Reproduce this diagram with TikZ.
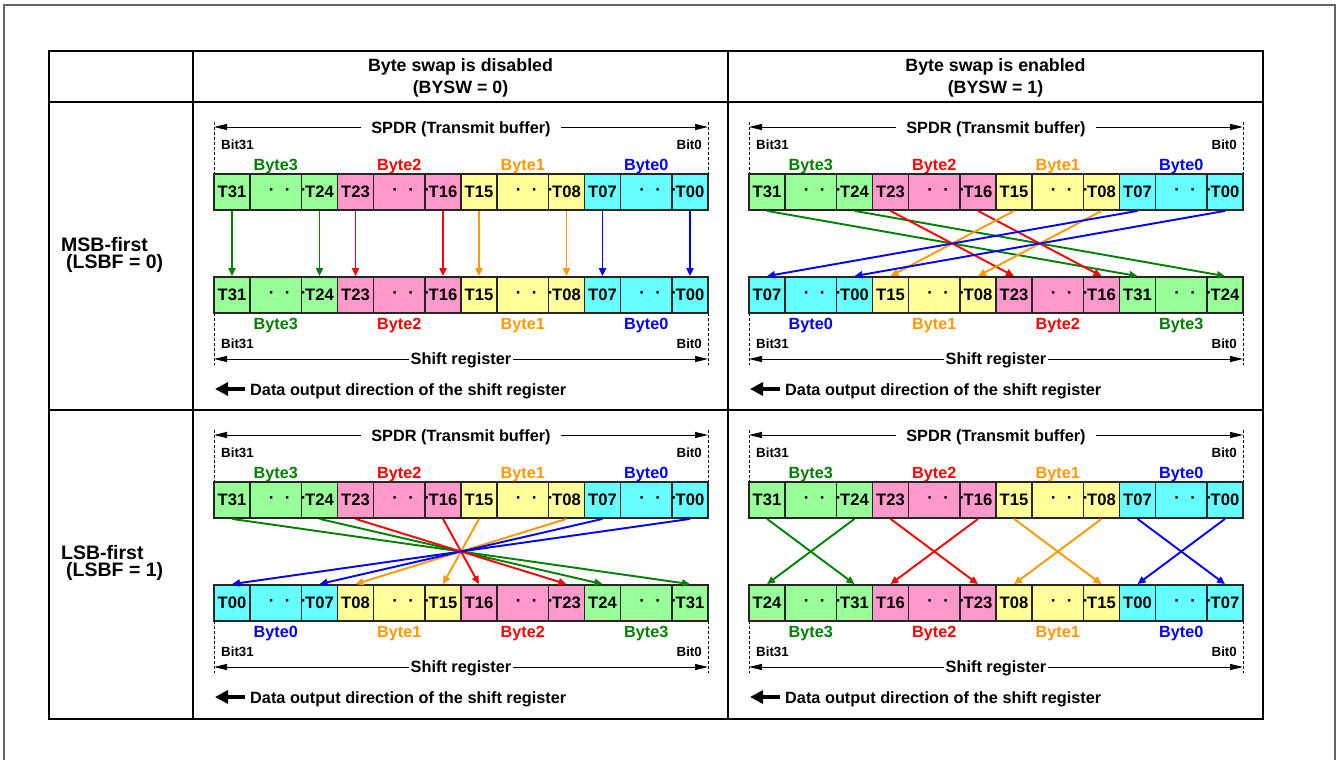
\documentclass[tikz,border=0pt]{standalone}
\usepackage{fontspec}
\setmainfont{Liberation Sans}
\usetikzlibrary{arrows.meta}
\definecolor{cG}{RGB}{0,128,0}
\definecolor{cR}{RGB}{255,0,0}
\definecolor{cO}{RGB}{255,153,0}
\definecolor{cB}{RGB}{0,0,255}
\definecolor{fG}{RGB}{153,255,153}
\definecolor{fR}{RGB}{255,153,204}
\definecolor{fO}{RGB}{255,255,153}
\definecolor{fB}{RGB}{102,255,255}
\definecolor{frameg}{RGB}{100,100,100}
\tikzset{
  cellN/.style={draw=black!85, line width=1.8pt, minimum width=36pt, minimum height=36pt,
    inner sep=0pt, font=\bfseries\fontsize{16.6}{17}\selectfont},
  cellW/.style={cellN, minimum width=51.5pt},
  dotrow/.style={inner sep=0pt, font=\bfseries\fontsize{17}{17}\selectfont},
  conn/.style={line width=1.9pt, -{Triangle[length=8pt,width=7pt]}},
  ruler/.style={line width=1pt, {Triangle[length=13pt,width=6pt]}-{Triangle[length=13pt,width=6pt]}},
  dashline/.style={line width=0.9pt, dash pattern=on 3pt off 2pt},
  bitlbl/.style={inner sep=0pt, font=\bfseries\fontsize{13.3}{14}\selectfont},
  bytelbl/.style={inner sep=0pt, font=\bfseries\fontsize{16.2}{17}\selectfont},
  ttl/.style={inner sep=0pt, font=\bfseries\fontsize{16.3}{17}\selectfont},
  head/.style={inner sep=0pt, font=\bfseries\fontsize{17.8}{19}\selectfont},
  rowlbl/.style={inner sep=0pt, font=\bfseries\fontsize{19.5}{20}\selectfont},
  bigarrow/.style={line width=4pt, -{Triangle[length=13pt,width=13pt]}},
  tbl/.style={line width=2.2pt, black},
}
% #1 name, #2 x, #3 ytop, #4 fill, #5 first, #6 last, #7 text colour, #8 byte name, #9 label baseline
\newcommand\byteblock[9]{%
  \node[cellN,fill=#4] (#1a) at ({#2+18},{#3+18}) {#5};
  \node[cellW,fill=#4] (#1m) at ({#2+61.75},{#3+18}) {};
  \node[cellN,fill=#4] (#1b) at ({#2+105.5},{#3+18}) {#6};
  \node[dotrow] (#1d) at ({#2+73.75},{#3+18}) {·\kern10.3pt·\kern10.3pt·};
  \node[bytelbl,text=#7,anchor=base] (#1n) at ({#2+61.75},#9) {#8};
}
% #1 prefix, #2 x0, #3 row offset
\newcommand\panelframe[3]{%
  \coordinate (#1-rt1) at (#2,{122+#3});
  \coordinate (#1-rt2) at (#2,{174+#3});
  \coordinate (#1-rt3) at ({#2+494},{122+#3});
  \coordinate (#1-rt4) at ({#2+494},{174+#3});
  \draw[dashline] (#1-rt1) -- (#1-rt2);
  \draw[dashline] (#1-rt3) -- (#1-rt4);
  \coordinate (#1-sa) at (#2,{127+#3});
  \coordinate (#1-sb) at ({#2+494},{127+#3});
  \draw[ruler] (#1-sa) -- (#1-sb);
  \node[ttl,fill=white,inner xsep=10pt,inner ysep=3pt,anchor=base] (#1-spdr) at ({#2+247},{133.3+#3}) {SPDR (Transmit buffer)};
  \node[bitlbl,anchor=base west] (#1-b31u) at ({#2+7},{149+#3}) {Bit31};
  \node[bitlbl,anchor=base east] (#1-b0u) at ({#2+488},{149+#3}) {Bit0};
  \byteblock{#1-u0}{#2}{174+#3}{fG}{T31}{T24}{cG}{Byte3}{170+#3}
  \byteblock{#1-u1}{#2+123.5}{174+#3}{fR}{T23}{T16}{cR}{Byte2}{170+#3}
  \byteblock{#1-u2}{#2+247}{174+#3}{fO}{T15}{T08}{cO}{Byte1}{170+#3}
  \byteblock{#1-u3}{#2+370.5}{174+#3}{fB}{T07}{T00}{cB}{Byte0}{170+#3}
  \coordinate (#1-rb1) at (#2,{313+#3});
  \coordinate (#1-rb2) at (#2,{365+#3});
  \coordinate (#1-rb3) at ({#2+494},{313+#3});
  \coordinate (#1-rb4) at ({#2+494},{365+#3});
  \draw[dashline] (#1-rb1) -- (#1-rb2);
  \draw[dashline] (#1-rb3) -- (#1-rb4);
  \node[bitlbl,anchor=base west] (#1-b31l) at ({#2+7},{348+#3}) {Bit31};
  \node[bitlbl,anchor=base east] (#1-b0l) at ({#2+488},{348+#3}) {Bit0};
  \coordinate (#1-ra) at (#2,{359+#3});
  \coordinate (#1-rb) at ({#2+494},{359+#3});
  \draw[ruler] (#1-ra) -- (#1-rb);
  \node[ttl,fill=white,inner xsep=2pt,inner ysep=3pt,anchor=base] (#1-shift) at ({#2+247},{364.3+#3}) {Shift register};
  \coordinate (#1-da) at ({#2+31},{389+#3});
  \coordinate (#1-db) at ({#2+1},{389+#3});
  \draw[bigarrow] (#1-da) -- (#1-db);
  \node[ttl,anchor=base west] (#1-dtxt) at ({#2+36},{395+#3}) {Data output direction of the shift register};
}
\begin{document}
\begin{tikzpicture}[x=1pt,y=-1pt]
\useasboundingbox (0,0) rectangle (1339,760);
% outer frame
\draw[frameg,line width=1.5pt] (4,762) -- (4,5) -- (1335,5) -- (1335,762);
% table
\draw[tbl] (49,51) rectangle (1263,719);
\draw[tbl] (193,51) -- (193,719);
\draw[tbl] (728,51) -- (728,719);
\draw[tbl] (49,102) -- (1263,102);
\draw[tbl] (49,410) -- (1263,410);
% headers
\node[head,anchor=base] (h1a) at (460.5,72) {Byte swap is disabled};
\node[head,anchor=base] (h1b) at (460.5,93) {(BYSW = 0)};
\node[head,anchor=base] (h2a) at (995.5,72) {Byte swap is enabled};
\node[head,anchor=base] (h2b) at (995.5,93) {(BYSW = 1)};
\node[rowlbl,anchor=base west] (r1a) at (61,251) {MSB-first};
\node[rowlbl,anchor=base west] (r1b) at (66,268.5) {(LSBF = 0)};
\node[rowlbl,anchor=base west] (r2a) at (61,559) {LSB-first};
\node[rowlbl,anchor=base west] (r2b) at (66,576.5) {(LSBF = 1)};

% ---------- Panel A: MSB-first, no swap
\panelframe{A}{214}{0}
\byteblock{A-l0}{214}{277}{fG}{T31}{T24}{cG}{Byte3}{329}
\byteblock{A-l1}{337.5}{277}{fR}{T23}{T16}{cR}{Byte2}{329}
\byteblock{A-l2}{461}{277}{fO}{T15}{T08}{cO}{Byte1}{329}
\byteblock{A-l3}{584.5}{277}{fB}{T07}{T00}{cB}{Byte0}{329}
\draw[conn,cG] (A-u0a.south) -- (A-l0a.north);
\draw[conn,cG] (A-u0b.south) -- (A-l0b.north);
\draw[conn,cR] (A-u1a.south) -- (A-l1a.north);
\draw[conn,cR] (A-u1b.south) -- (A-l1b.north);
\draw[conn,cO] (A-u2a.south) -- (A-l2a.north);
\draw[conn,cO] (A-u2b.south) -- (A-l2b.north);
\draw[conn,cB] (A-u3a.south) -- (A-l3a.north);
\draw[conn,cB] (A-u3b.south) -- (A-l3b.north);

% ---------- Panel B: MSB-first, swap
\panelframe{B}{749}{0}
\byteblock{B-l0}{749}{277}{fB}{T07}{T00}{cB}{Byte0}{329}
\byteblock{B-l1}{872.5}{277}{fO}{T15}{T08}{cO}{Byte1}{329}
\byteblock{B-l2}{996}{277}{fR}{T23}{T16}{cR}{Byte2}{329}
\byteblock{B-l3}{1119.5}{277}{fG}{T31}{T24}{cG}{Byte3}{329}
\draw[conn,cG] (B-u0a.south) -- (B-l3a.north);
\draw[conn,cG] (B-u0b.south) -- (B-l3b.north);
\draw[conn,cR] (B-u1a.south) -- (B-l2a.north);
\draw[conn,cR] (B-u1b.south) -- (B-l2b.north);
\draw[conn,cO] (B-u2a.south) -- (B-l1a.north);
\draw[conn,cO] (B-u2b.south) -- (B-l1b.north);
\draw[conn,cB] (B-u3a.south) -- (B-l0a.north);
\draw[conn,cB] (B-u3b.south) -- (B-l0b.north);

% ---------- Panel C: LSB-first, no swap
\panelframe{C}{214}{308}
\byteblock{C-l0}{214}{585}{fB}{T00}{T07}{cB}{Byte0}{637}
\byteblock{C-l1}{337.5}{585}{fO}{T08}{T15}{cO}{Byte1}{637}
\byteblock{C-l2}{461}{585}{fR}{T16}{T23}{cR}{Byte2}{637}
\byteblock{C-l3}{584.5}{585}{fG}{T24}{T31}{cG}{Byte3}{637}
\draw[conn,cG] (C-u0a.south) -- (C-l3b.north);
\draw[conn,cG] (C-u0b.south) -- (C-l3a.north);
\draw[conn,cR] (C-u1a.south) -- (C-l2b.north);
\draw[conn,cR] (C-u1b.south) -- (C-l2a.north);
\draw[conn,cO] (C-u2a.south) -- (C-l1b.north);
\draw[conn,cO] (C-u2b.south) -- (C-l1a.north);
\draw[conn,cB] (C-u3a.south) -- (C-l0b.north);
\draw[conn,cB] (C-u3b.south) -- (C-l0a.north);

% ---------- Panel D: LSB-first, swap
\panelframe{D}{749}{308}
\byteblock{D-l0}{749}{585}{fG}{T24}{T31}{cG}{Byte3}{637}
\byteblock{D-l1}{872.5}{585}{fR}{T16}{T23}{cR}{Byte2}{637}
\byteblock{D-l2}{996}{585}{fO}{T08}{T15}{cO}{Byte1}{637}
\byteblock{D-l3}{1119.5}{585}{fB}{T00}{T07}{cB}{Byte0}{637}
\draw[conn,cG] (D-u0a.south) -- (D-l0b.north);
\draw[conn,cG] (D-u0b.south) -- (D-l0a.north);
\draw[conn,cR] (D-u1a.south) -- (D-l1b.north);
\draw[conn,cR] (D-u1b.south) -- (D-l1a.north);
\draw[conn,cO] (D-u2a.south) -- (D-l2b.north);
\draw[conn,cO] (D-u2b.south) -- (D-l2a.north);
\draw[conn,cB] (D-u3a.south) -- (D-l3b.north);
\draw[conn,cB] (D-u3b.south) -- (D-l3a.north);
\end{tikzpicture}
\end{document}
